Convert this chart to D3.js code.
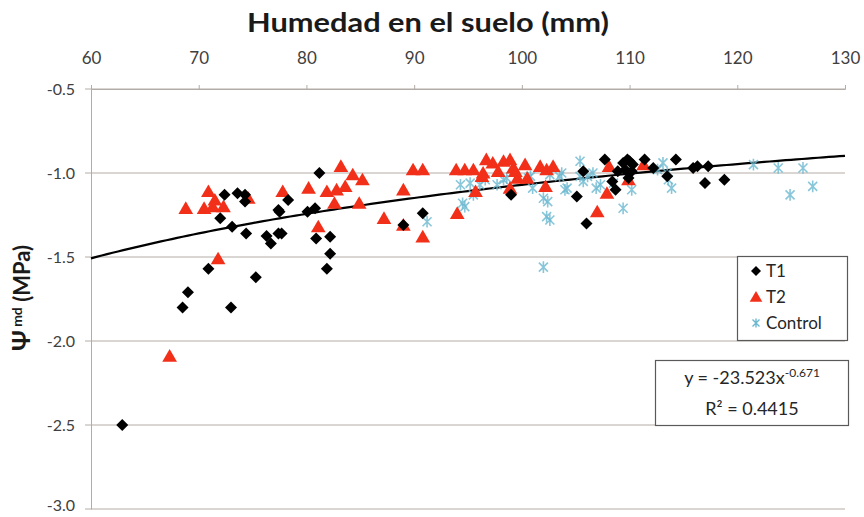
<!DOCTYPE html>
<html>
<head>
<meta charset="utf-8">
<script src="https://cdn.jsdelivr.net/npm/d3@7"></script>
<style>
  html, body { margin: 0; padding: 0; background: #fff; }
  svg { display: block; font-family: Lato, "Open Sans", sans-serif; }
</style>
</head>
<body>
<svg id="chart" width="864" height="517"></svg>
<script>
// ---- Data ----
const xTicks = [60, 70, 80, 90, 100, 110, 120, 130];
const yTicks = [-0.5, -1.0, -1.5, -2.0, -2.5, -3.0];
const seriesNames = ["T1", "T2", "Control"];

const t1X = [62.9, 72.0, 73.1, 74.4, 76.3, 76.7, 77.4, 77.4, 72.4, 73.6, 74.3, 74.3, 70.9, 69.0, 68.5, 73.0, 75.3,
             81.2, 78.3, 77.5, 80.1, 80.8, 77.7, 80.9, 82.2, 82.2, 81.9, 90.8, 89.0, 99.0,
             107.7, 109.4, 110.0, 111.4, 114.3, 108.4, 108.7, 105.1, 106.0, 113.5, 112.2, 105.7, 109.9, 110.3,
             115.9, 116.3, 117.3, 117.0, 118.8, 108.9, 109.6, 110.2, 109.8];
const t1Y = [-2.50, -1.27, -1.32, -1.36, -1.375, -1.42, -1.36, -1.22, -1.13, -1.12, -1.13, -1.17, -1.57, -1.71, -1.80, -1.80, -1.62,
             -1.00, -1.16, -1.23, -1.23, -1.21, -1.36, -1.39, -1.38, -1.48, -1.57, -1.24, -1.31, -1.13,
             -0.92, -0.94, -0.93, -0.92, -0.92, -1.05, -1.10, -1.14, -1.30, -1.02, -0.97, -0.99, -1.03, -0.95,
             -0.97, -0.96, -0.96, -1.06, -1.04, -0.99, -0.98, -0.99, -0.92];

const t2X = [68.8, 70.9, 70.5, 71.5, 72.3, 71.3, 74.6, 71.8, 67.3,
             77.8, 80.2, 83.2, 84.3, 85.2, 81.9, 82.8, 83.6, 82.6, 84.9, 81.1, 87.2, 89.0, 89.0, 90.8, 89.9, 90.8,
             94.0, 93.9, 94.7, 95.5, 96.3, 96.7, 97.3, 98.3, 98.9, 99.2, 99.6, 100.3, 100.5, 101.7, 102.3, 102.9,
             95.7, 98.9, 102.2, 96.4, 97.8, 99.4, 108.1, 109.9, 107.9, 107.0, 111.3];
const t2Y = [-1.21, -1.11, -1.21, -1.16, -1.20, -1.20, -1.15, -1.51, -2.09,
             -1.11, -1.09, -0.96, -1.01, -1.04, -1.11, -1.10, -1.08, -1.18, -1.18, -1.32, -1.27, -1.10, -1.31, -1.38, -0.98, -0.98,
             -1.24, -0.98, -0.98, -0.98, -1.02, -0.92, -0.94, -0.93, -0.92, -0.97, -1.03, -0.95, -1.03, -0.96, -0.98, -0.96,
             -1.11, -1.09, -1.08, -1.00, -0.99, -0.99, -0.96, -1.04, -1.12, -1.23, -0.95];

const ctrlX = [95.2, 94.5, 91.2, 95.5, 94.3, 94.7, 96.1, 97.7, 98.6, 100.6, 101.0, 102.0,
               96.6, 98.3, 100.8, 102.4, 102.6, 102.0, 103.7, 104.2, 106.6, 106.9, 108.5, 109.4, 110.2, 112.6, 113.6, 113.9,
               105.4, 105.7, 102.3, 103.5, 104.0, 106.1, 107.3, 113.5, 105.4, 102.6,
               113.1, 121.5, 123.8, 126.1, 124.9, 127.0];
const ctrlY = [-1.06, -1.18, -1.29, -1.13, -1.07, -1.20, -1.07, -1.07, -1.03, -1.03, -1.09, -1.15,
               -1.04, -1.04, -1.02, -1.17, -1.28, -1.56, -1.00, -1.09, -1.00, -1.09, -1.06, -1.21, -1.10, -0.98, -1.04, -1.09,
               -1.02, -1.05, -1.26, -1.02, -1.10, -1.02, -1.07, -1.00, -0.93, -1.01,
               -0.94, -0.95, -0.97, -0.97, -1.13, -1.08];

const fitA = -23.523, fitB = -0.671, fitR2 = "0.4415";
const fitXs = d3.range(60, 130.01, 0.5); // sampling positions for the fitted curve

// ---- Layout ----
const svg = d3.select("#chart");
const M = { left: 91, right: 845, top: 89, bottom: 509 };
const x = d3.scaleLinear().domain([60, 130]).range([M.left, M.right]);
const y = d3.scaleLinear().domain([-0.5, -3.0]).range([M.top, M.bottom]);

const gridColor = "#b3aca6";
const textColor = "#404040";

// horizontal gridlines
svg.append("g").selectAll("line").data(yTicks).join("line")
  .attr("x1", M.left - 6).attr("x2", M.right)
  .attr("y1", d => y(d)).attr("y2", d => y(d))
  .attr("stroke", gridColor).attr("stroke-width", 1);

// top axis
const xAxis = d3.axisTop(x).tickValues(xTicks).tickSize(4).tickFormat(d => String(d));
const gx = svg.append("g").attr("transform", `translate(0,${M.top})`).call(xAxis);
gx.select(".domain").attr("stroke", gridColor);
gx.selectAll(".tick line").attr("stroke", gridColor);
gx.selectAll(".tick text").attr("fill", textColor).attr("font-size", 17).attr("y", -25)
  .attr("font-family", "Lato, sans-serif");

// left axis
const yAxis = d3.axisLeft(y).tickValues(yTicks).tickSize(0).tickPadding(16).tickFormat(d => d.toFixed(1));
const gy = svg.append("g").attr("transform", `translate(${M.left},0)`).call(yAxis);
gy.select(".domain").attr("stroke", gridColor);
gy.selectAll(".tick text").attr("fill", textColor).attr("font-size", 16)
  .attr("font-family", "Lato, sans-serif")
  .attr("dy", d => d === -3.0 ? "0.1em" : "0.32em");

// titles
svg.append("text").attr("x", 428).attr("y", 32).attr("text-anchor", "middle")
  .attr("font-size", 27).attr("font-weight", "bold").attr("fill", "#1a1a1a")
  .attr("textLength", 362).attr("lengthAdjust", "spacingAndGlyphs")
  .text("Humedad en el suelo (mm)");

const yt = svg.append("text").attr("transform", "translate(30,298) rotate(-90)")
  .attr("text-anchor", "middle").attr("font-size", 22).attr("font-weight", "bold").attr("fill", "#1a1a1a");
yt.append("tspan").attr("font-size", 25).text("Ψ");
yt.append("tspan").attr("font-size", 14).attr("dy", -8).text(" md");
yt.append("tspan").attr("dy", 8).text(" (MPa)");

// fitted curve
const line = d3.line().x(d => x(d)).y(d => y(fitA * Math.pow(d, fitB)));
svg.append("path").datum(fitXs).attr("d", line)
  .attr("fill", "none").attr("stroke", "#000").attr("stroke-width", 2.2);

// marker generators
function diamondPath(s) { return `M0,${-s}L${s},0L0,${s}L${-s},0Z`; }
function trianglePath(s) { return `M0,${-s}L${s * 1.05},${s * 0.8}L${-s * 1.05},${s * 0.8}Z`; }
function starPath(s) {
  return `M${-s},${-s}L${s},${s}M${-s},${s}L${s},${-s}M0,${-s * 1.3}L0,${s * 1.3}`;
}
const ctrlColor = "#6ab8d0";
const t2Color = "#f2301a";

// Control
svg.append("g").selectAll("path").data(d3.range(ctrlX.length)).join("path")
  .attr("transform", i => `translate(${x(ctrlX[i])},${y(ctrlY[i])})`)
  .attr("d", starPath(4.5)).attr("stroke", ctrlColor).attr("stroke-width", 1.6)
  .attr("fill", "none").attr("opacity", 0.8);

// T2
svg.append("g").selectAll("path").data(d3.range(t2X.length)).join("path")
  .attr("transform", i => `translate(${x(t2X[i])},${y(t2Y[i])})`)
  .attr("d", trianglePath(7)).attr("fill", t2Color);

// T1
svg.append("g").selectAll("path").data(d3.range(t1X.length)).join("path")
  .attr("transform", i => `translate(${x(t1X[i])},${y(t1Y[i])})`)
  .attr("d", diamondPath(6)).attr("fill", "#000");

// legend
const lg = svg.append("g");
lg.append("rect").attr("x", 737.5).attr("y", 256.5).attr("width", 110).attr("height", 84)
  .attr("fill", "#fff").attr("stroke", "#595959").attr("stroke-width", 1.2);
const legendMarks = [
  g => g.append("path").attr("d", diamondPath(5)).attr("fill", "#000"),
  g => g.append("path").attr("d", trianglePath(6)).attr("fill", t2Color),
  g => g.append("path").attr("d", starPath(3.5)).attr("stroke", ctrlColor).attr("stroke-width", 1.4).attr("fill", "none")
];
seriesNames.forEach((n, i) => {
  const gy0 = 271 + i * 26;
  const g = lg.append("g").attr("transform", `translate(756,${gy0})`);
  legendMarks[i](g);
  lg.append("text").attr("x", 766).attr("y", gy0 + 6).attr("font-size", 17).attr("fill", "#262626").text(n);
});

// equation box
const eq = svg.append("g");
eq.append("rect").attr("x", 655.5).attr("y", 360.5).attr("width", 193).attr("height", 65)
  .attr("fill", "#fff").attr("stroke", "#595959").attr("stroke-width", 1.2);
const e1 = eq.append("text").attr("x", 752).attr("y", 384).attr("text-anchor", "middle")
  .attr("font-size", 18).attr("fill", "#262626");
e1.append("tspan").text(`y = ${fitA}x`);
e1.append("tspan").attr("font-size", 12).attr("dy", -7).text(`${fitB}`);
eq.append("text").attr("x", 752).attr("y", 415).attr("text-anchor", "middle")
  .attr("font-size", 18).attr("fill", "#262626").text(`R² = ${fitR2}`);
</script>
</body>
</html>
